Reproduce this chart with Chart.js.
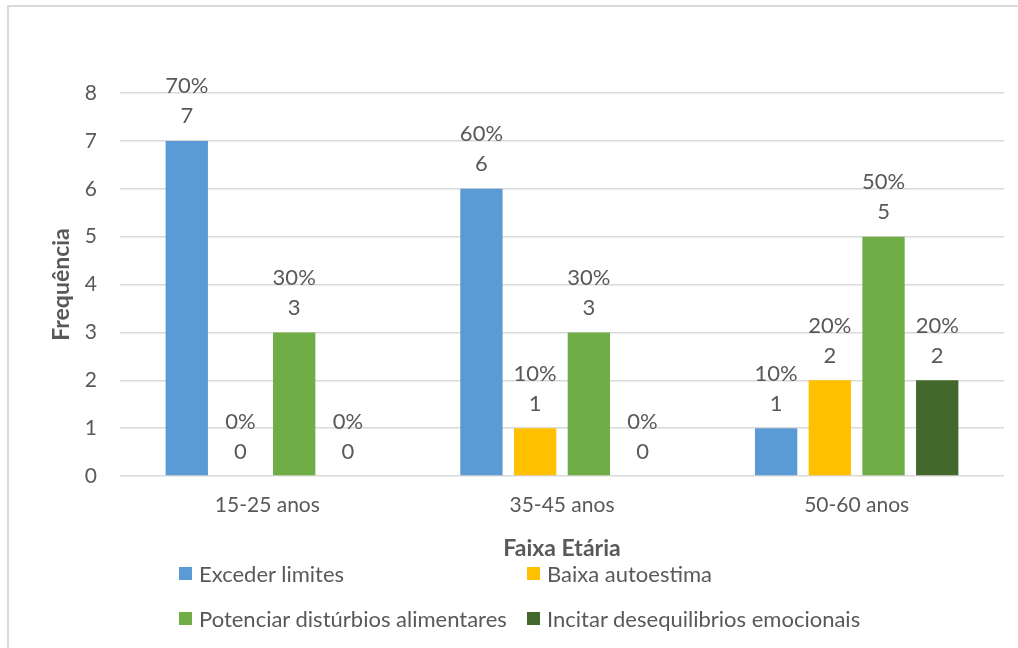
<!DOCTYPE html>
<html>
<head>
<meta charset="utf-8">
<script src="https://cdn.jsdelivr.net/npm/chart.js@4.4.1/dist/chart.umd.min.js"></script>
<style>
  html, body { margin: 0; padding: 0; background: #ffffff; }
  body { width: 1018px; height: 648px; position: relative; overflow: hidden; font-family: Lato, "Open Sans", sans-serif; }
  #frame { position: absolute; left: 7px; top: 5px; width: 1100px; height: 700px; border-left: 2px solid #d9d9d9; border-top: 2px solid #d9d9d9; box-sizing: border-box; }
  #c { position: absolute; left: 0; top: 0; }
  .lg { position: absolute; display: flex; align-items: center; font-size: 22px; color: #595959; white-space: nowrap; height: 26px; }
  .lg .sw { width: 13px; height: 13px; margin-right: 7px; flex: none; }
</style>
</head>
<body>
<div id="frame"></div>
<canvas id="c" width="1018" height="648"></canvas>
<div id="legend"></div>
<script>
const categories = ["15-25 anos", "35-45 anos", "50-60 anos"];
const seriesNames = ["Exceder limites", "Baixa autoestima", "Potenciar distúrbios alimentares", "Incitar desequilibrios emocionais"];
const excederLimites = [7, 6, 1];
const baixaAutoestima = [0, 1, 2];
const potenciarDisturbios = [3, 3, 5];
const incitarDesequilibrios = [0, 0, 2];
const excederPct = ["70%", "60%", "10%"];
const baixaPct = ["0%", "10%", "20%"];
const potenciarPct = ["30%", "30%", "50%"];
const incitarPct = ["0%", "0%", "20%"];
const yTicks = [0, 1, 2, 3, 4, 5, 6, 7, 8];
const colors = ["#5B9BD5", "#FFC000", "#70AD47", "#43682B"];

const seriesValues = [excederLimites, baixaAutoestima, potenciarDisturbios, incitarDesequilibrios];
const seriesPct = [excederPct, baixaPct, potenciarPct, incitarPct];

const FONT = "Lato, 'Open Sans', sans-serif";
const TXT = "#595959";

const labelPlugin = {
  id: 'barLabels',
  afterDatasetsDraw(chart) {
    const ctx = chart.ctx;
    ctx.save();
    ctx.fillStyle = TXT;
    ctx.font = "22px " + FONT;
    ctx.textAlign = "center";
    ctx.textBaseline = "middle";
    chart.data.datasets.forEach((ds, i) => {
      const meta = chart.getDatasetMeta(i);
      meta.data.forEach((el, j) => {
        ctx.fillText(String(ds.data[j]), el.x, el.y - 24.5);
        ctx.fillText(seriesPct[i][j], el.x, el.y - 54.5);
      });
    });
    ctx.restore();
  }
};

new Chart(document.getElementById('c'), {
  type: 'bar',
  data: {
    labels: categories,
    datasets: seriesNames.map((n, i) => ({
      label: n,
      data: seriesValues[i],
      backgroundColor: colors[i],
      borderWidth: 0,
      barPercentage: 0.788,
      categoryPercentage: 0.729
    }))
  },
  options: {
    responsive: false,
    animation: false,
    devicePixelRatio: 1,
    layout: { padding: { left: 40, top: 93, right: 14, bottom: 82 } },
    plugins: { legend: { display: false }, tooltip: { enabled: false } },
    scales: {
      y: {
        min: 0, max: 8,
        afterBuildTicks(s) { s.ticks = yTicks.map(v => ({ value: v })); },
        afterFit(s) { s.width = 80; },
        ticks: { color: TXT, font: { family: FONT, size: 21 }, padding: 23 },
        grid: { color: "#d9d9d9", lineWidth: 1.5, drawTicks: false },
        border: { display: false },
        title: { display: true, text: "Frequência", color: TXT, font: { family: FONT, size: 23, weight: 'bold' }, padding: { top: 8, bottom: 0 } }
      },
      x: {
        afterFit(s) { s.height = 90; },
        ticks: { color: TXT, font: { family: FONT, size: 21 }, padding: 17 },
        grid: { display: false, drawTicks: false },
        border: { display: false },
        title: { display: true, text: "Faixa Etária", color: TXT, font: { family: FONT, size: 23, weight: 'bold' }, padding: { top: 0, bottom: 4 } }
      }
    }
  },
  plugins: [labelPlugin]
});

// legend (grid of two columns)
const legendPos = [[179, 573], [527, 573], [179, 618], [527, 618]];
const lg = document.getElementById('legend');
seriesNames.forEach((n, i) => {
  const d = document.createElement('div');
  d.className = 'lg';
  d.style.left = legendPos[i][0] + 'px';
  d.style.top = (legendPos[i][1] - 13) + 'px';
  const sw = document.createElement('span');
  sw.className = 'sw';
  sw.style.background = colors[i];
  const t = document.createElement('span');
  t.textContent = n;
  d.appendChild(sw); d.appendChild(t);
  lg.appendChild(d);
});
</script>
</body>
</html>
